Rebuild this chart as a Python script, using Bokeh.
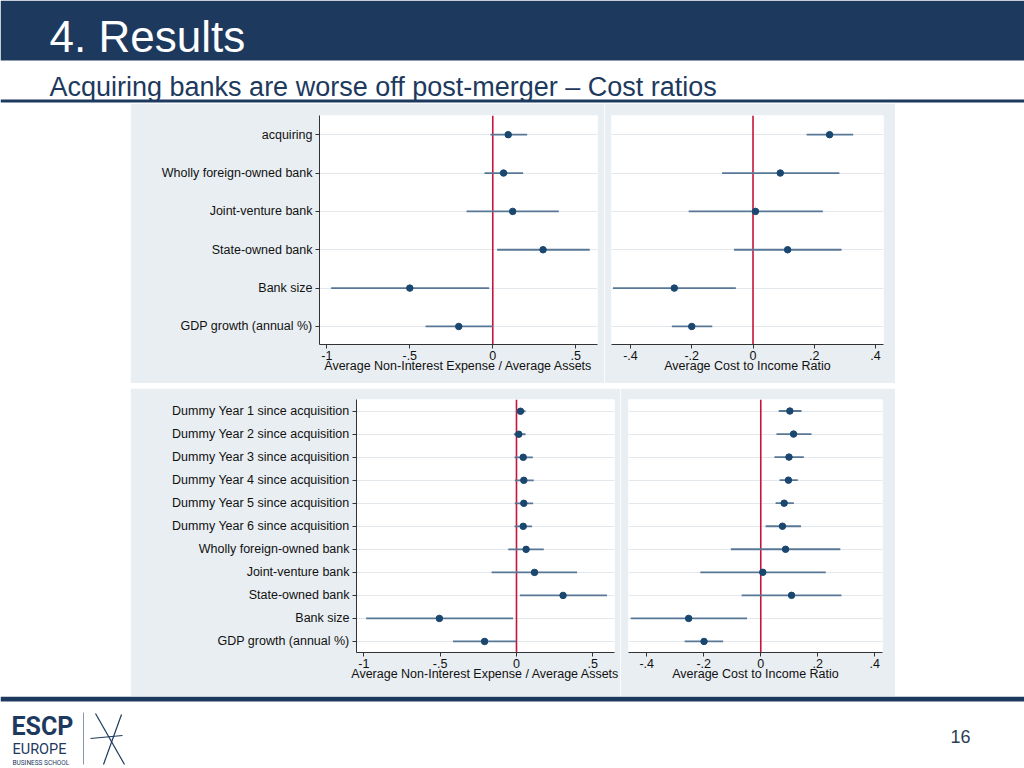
from bokeh.plotting import figure
from bokeh.layouts import column, row, Spacer
from bokeh.models import Range1d, FixedTicker, CustomJSTickFormatter, Span
from bokeh.core.properties import value
from bokeh.embed import file_html
from bokeh.resources import INLINE

# ---------------- data ----------------
slide_title = "4. Results"
slide_subtitle = "Acquiring banks are worse off post-merger \u2013 Cost ratios"
page_number = "16"

top_labels = ["acquiring", "Wholly foreign-owned bank", "Joint-venture bank",
              "State-owned bank", "Bank size", "GDP growth (annual %)"]
tl_coef = [0.093, 0.065, 0.120, 0.303, -0.500, -0.205]
tl_lo = [-0.014, -0.050, -0.158, 0.026, -0.974, -0.405]
tl_hi = [0.207, 0.183, 0.398, 0.584, -0.022, 0.000]
tr_coef = [0.250, 0.089, 0.008, 0.113, -0.257, -0.200]
tr_lo = [0.175, -0.101, -0.210, -0.062, -0.457, -0.265]
tr_hi = [0.327, 0.282, 0.228, 0.289, -0.056, -0.133]

bottom_labels = ["Dummy Year 1 since acquisition", "Dummy Year 2 since acquisition",
                 "Dummy Year 3 since acquisition", "Dummy Year 4 since acquisition",
                 "Dummy Year 5 since acquisition", "Dummy Year 6 since acquisition",
                 "Wholly foreign-owned bank", "Joint-venture bank", "State-owned bank",
                 "Bank size", "GDP growth (annual %)"]
bl_coef = [0.026, 0.015, 0.044, 0.048, 0.048, 0.044, 0.063, 0.118, 0.305, -0.505, -0.209]
bl_lo = [0.000, -0.017, -0.013, -0.011, -0.011, -0.013, -0.054, -0.163, 0.022, -0.985, -0.416]
bl_hi = [0.059, 0.059, 0.107, 0.113, 0.109, 0.102, 0.179, 0.397, 0.593, -0.022, -0.002]
br_coef = [0.102, 0.115, 0.099, 0.097, 0.082, 0.076, 0.087, 0.007, 0.108, -0.253, -0.199]
br_lo = [0.063, 0.055, 0.048, 0.066, 0.052, 0.017, -0.105, -0.212, -0.067, -0.456, -0.267]
br_hi = [0.143, 0.178, 0.151, 0.130, 0.116, 0.141, 0.279, 0.228, 0.283, -0.048, -0.132]

title_expense = "Average Non-Interest Expense / Average Assets"
title_cost = "Average Cost to Income Ratio"
ticks_expense = [-1, -0.5, 0, 0.5]
ticks_cost = [-0.4, -0.2, 0, 0.2, 0.4]

# ---------------- styles ----------------
NAVY = "#1d3a5e"
PANEL = "#e9eef2"
GRID = "#e3e8ec"
DOT = "#1a476f"
CI = "#587796"
RED = "#c8143c"
FONT = value("Liberation Sans")

stata_fmt = CustomJSTickFormatter(code="""
let s = tick.toFixed(1);
s = s.replace(/\\.0$/, '');
s = s.replace(/^(-?)0\\./, '$1.');
return s;
""")


def coef_plot(width, height, borders, xr, yr, labels, coef, lo, hi, xticks, xtitle, show_labels):
    left, right, top, bottom = borders
    p = figure(width=width, height=height, x_range=Range1d(*xr), y_range=Range1d(*yr),
               toolbar_location=None, output_backend="svg",
               min_border_left=left, min_border_right=right,
               min_border_top=top, min_border_bottom=bottom)
    p.border_fill_color = PANEL
    p.background_fill_color = "white"
    p.outline_line_color = None
    idx = [i + 1 for i in range(len(labels))]
    yt = FixedTicker(ticks=idx)
    p.xgrid.visible = False
    p.ygrid.ticker = yt
    p.ygrid.grid_line_color = GRID
    p.ygrid.grid_line_width = 1

    xa = p.xaxis[0]
    xa.ticker = FixedTicker(ticks=xticks)
    xa.formatter = stata_fmt
    xa.axis_label = xtitle
    xa.axis_label_text_font = "Liberation Sans"
    xa.axis_label_text_font_size = "12.5px"
    xa.axis_label_text_font_style = "normal"
    xa.axis_label_text_color = "#111111"
    xa.axis_label_standoff = -4
    xa.major_label_text_font = "Liberation Sans"
    xa.major_label_text_font_size = "12.5px"
    xa.major_label_text_color = "#111111"
    xa.major_label_standoff = 2
    xa.major_tick_in = 0
    xa.major_tick_out = 4
    xa.minor_tick_line_color = None
    xa.axis_line_color = "#333333"
    xa.major_tick_line_color = "#333333"

    ya = p.yaxis[0]
    if show_labels:
        ya.ticker = yt
        ya.formatter = CustomJSTickFormatter(args=dict(labels=labels),
                                             code="return labels[Math.round(tick) - 1] || '';")
        ya.major_label_text_font = "Liberation Sans"
        ya.major_label_text_font_size = "12.5px"
        ya.major_label_text_color = "#111111"
        ya.major_label_standoff = 3
        ya.major_tick_in = 0
        ya.major_tick_out = 4
        ya.minor_tick_line_color = None
        ya.axis_line_color = "#333333"
        ya.major_tick_line_color = "#333333"
    else:
        ya.visible = False

    zero = Span(location=0, dimension="height", line_color=RED, line_width=1.6, level="underlay")
    p.add_layout(zero)
    p.segment(x0=lo, y0=idx, x1=hi, y1=idx, line_color=CI, line_width=1.8)
    p.scatter(x=coef, y=idx, size=6.5, fill_color=DOT, line_color=DOT)
    return p


fig_tl = coef_plot(474, 280, (189, 7, 12, 39), (-1.044, 0.631), (6.47, 0.5),
                   top_labels, tl_coef, tl_lo, tl_hi, ticks_expense, title_expense, True)
fig_tr = coef_plot(291, 280, (7, 12, 12, 39), (-0.462, 0.426), (6.47, 0.5),
                   top_labels, tr_coef, tr_lo, tr_hi, ticks_cost, title_cost, False)
fig_bl = coef_plot(490, 308, (226, 6, 10, 44), (-1.048, 0.642), (11.48, 0.49),
                   bottom_labels, bl_coef, bl_lo, bl_hi, ticks_expense, title_expense, True)
fig_br = coef_plot(275, 308, (8, 13, 11, 43), (-0.464, 0.427), (11.48, 0.5),
                   bottom_labels, br_coef, br_lo, br_hi, ticks_cost, title_cost, False)

# ---------------- header ----------------
hdr = figure(width=1024, height=103, x_range=Range1d(0, 1024), y_range=Range1d(103, 0),
             toolbar_location=None, output_backend="svg", min_border=0,
             x_axis_location=None, y_axis_location=None)
hdr.outline_line_color = None
hdr.xgrid.visible = False
hdr.ygrid.visible = False
hdr.quad(left=[0], right=[1024], top=[0], bottom=[60], fill_color=NAVY, line_color=None)
hdr.quad(left=[0], right=[1024], top=[99], bottom=[102], fill_color=NAVY, line_color=None)
hdr.text(x=[49], y=[36], text=[slide_title], text_font=FONT, text_font_size="44px",
         text_color="white", text_baseline="middle", text_align="left")
hdr.text(x=[49], y=[86], text=[slide_subtitle], text_font=FONT, text_font_size="27px",
         text_color=NAVY, text_baseline="middle", text_align="left")

# ---------------- footer ----------------
ftr = figure(width=1024, height=72, x_range=Range1d(0, 1024), y_range=Range1d(768, 696),
             toolbar_location=None, output_backend="svg", min_border=0,
             x_axis_location=None, y_axis_location=None)
ftr.outline_line_color = None
ftr.xgrid.visible = False
ftr.ygrid.visible = False
ftr.quad(left=[0], right=[1024], top=[696], bottom=[701], fill_color=NAVY, line_color=None)
ftr.text(x=[11], y=[726], text=["ESCP"], text_font=value("Roboto"), text_font_size="25px",
         text_font_style="bold", text_color=NAVY, text_baseline="middle")
ftr.text(x=[12], y=[749], text=["EUROPE"], text_font=value("Roboto"), text_font_size="14.5px",
         text_color=NAVY, text_baseline="middle")
ftr.text(x=[12], y=[762], text=["BUSINESS SCHOOL"], text_font=value("Roboto"), text_font_size="6.5px",
         text_color=NAVY, text_baseline="middle")
ftr.segment(x0=[83], y0=[712], x1=[83], y1=[764], line_color="#8a97a8", line_width=1)
ftr.segment(x0=[95, 121, 90], y0=[713, 714, 738], x1=[124, 103, 122], y1=[764, 764, 735],
            line_color=NAVY, line_width=1.2)
ftr.text(x=[960], y=[736], text=[page_number], text_font=FONT, text_font_size="18px",
         text_color="#2b3e57", text_baseline="middle", text_align="center")

# ---------------- layout ----------------
panel = column(row(fig_tl, fig_tr), Spacer(width=765, height=5), row(fig_bl, fig_br))
middle = row(Spacer(width=130, height=593), panel, Spacer(width=129, height=593))
layout = column(hdr, middle, ftr)

open("out.html", "w").write(file_html(layout, INLINE, title="Results"))
